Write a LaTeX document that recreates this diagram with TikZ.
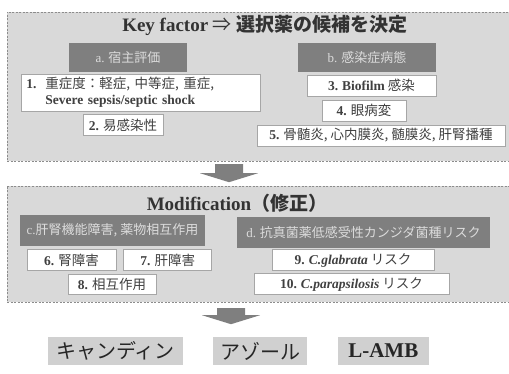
\documentclass[tikz,border=0pt]{standalone}
\usepackage{fontspec}
\setmainfont{Liberation Serif}
\newfontfamily\jp{Noto Sans CJK JP}
\usetikzlibrary{positioning}

\definecolor{framegray}{HTML}{D9D9D9}
\definecolor{dashgray}{HTML}{8C8C8C}
\definecolor{headgray}{HTML}{7F7F7F}
\definecolor{headtext}{HTML}{DCDCDC}
\definecolor{itemline}{HTML}{A6A6A6}
\definecolor{itemtext}{HTML}{404040}
\definecolor{druggray}{HTML}{D0D0D0}

\newcommand\itemno[1]{{\rmfamily\bfseries #1}}

\begin{document}
\begin{tikzpicture}[x=1pt, y=-1pt,
    stagebox/.style={draw=dashgray, dash pattern=on 2pt off 1.5pt, fill=framegray, inner sep=0pt},
    titletext/.style={text=black!80, font=\rmfamily\bfseries\fontsize{19}{22}\selectfont, inner sep=0pt},
    headbox/.style={fill=headgray, text=headtext, font=\jp\fontsize{13}{15}\selectfont, inner sep=0pt, minimum height=29pt},
    itembox/.style={draw=itemline, line width=0.8pt, fill=white, text=itemtext, font=\jp\fontsize{13.5}{16}\selectfont, inner sep=0pt, minimum height=21pt},
    drugbox/.style={fill=druggray, text=black!85, font=\jp\fontsize{20}{22}\selectfont, inner sep=0pt, minimum height=28pt},
    blockarrow/.style={fill=headgray}]
    \useasboundingbox (0,0) rectangle (509,374);

    % Frames
    \node [stagebox, minimum width=505pt, minimum height=149pt] (keyfactor) at (259.5,86.5) {};
    \node [stagebox, minimum width=505pt, minimum height=116pt] (modif) at (259.5,244) {};

    % Texts
    \node [titletext] (keytitle) at (265,25) {Key factor {\jp\mdseries ⇒} {\jp 選択薬の候補を決定}};
    \node [titletext] (modtitle) at (237,203) {Modification{\jp （修正）}};

    % Key factor
    \node [headbox, minimum width=118pt] (host) at (128,57.5) {{\rmfamily a.} 宿主評価};
    \node [headbox, minimum width=138pt] (infect) at (367,58) {{\rmfamily b.} 感染症病態};
    \node [itembox, anchor=west, text width=229pt, minimum height=37pt, inner xsep=5pt, align=left] (severity) at (21,92.5)
        {\makebox[19pt][l]{\itemno{1.}}重症度：軽症, 中等症, 重症,\\\hspace*{19pt}{\rmfamily\bfseries Severe sepsis/septic shock}};
    \node [itembox, minimum width=80pt] (suscept) at (123,125) {\itemno{2.} 易感染性};
    \node [itembox, minimum width=129pt] (biofilm) at (371.5,85.5) {\itemno{3.} {\rmfamily\bfseries Biofilm} 感染};
    \node [itembox, minimum width=84pt] (eye) at (364,110.5) {\itemno{4.} 眼病変};
    \node [itembox, minimum width=248pt] (organ) at (381,135.5) {\itemno{5.} 骨髄炎, 心内膜炎, 髄膜炎, 肝腎播種};

    % Modification
    \node [headbox, minimum width=185pt, minimum height=31pt] (organfn) at (112.5,230.5) {{\rmfamily c.}肝腎機能障害, 薬物相互作用};
    \node [headbox, minimum width=253pt, minimum height=31pt] (lowsus) at (363.5,232.5) {{\rmfamily d.} 抗真菌薬低感受性カンジダ菌種リスク};
    \node [itembox, minimum width=89pt] (renal) at (71.5,260) {\itemno{6.} 腎障害};
    \node [itembox, minimum width=88pt, right=7pt of renal] (hepatic) {\itemno{7.} 肝障害};
    \node [itembox, minimum width=88pt, minimum height=20pt] (interact) at (112,284.5) {\itemno{8.} 相互作用};
    \node [itembox, minimum width=162pt] (glabrata) at (353,260) {\itemno{9.} {\rmfamily\bfseries\itshape C.glabrata} リスク};
    \node [itembox, minimum width=195pt] (parap) at (351.5,284) {\itemno{10.} {\rmfamily\bfseries\itshape C.parapsilosis} リスク};

    % Drugs
    \node [drugbox, minimum width=135pt] (echino) at (115.5,351) {キャンディン};
    \node [drugbox, minimum width=94pt, right=30pt of echino] (azole) {アゾール};
    \node [drugbox, minimum width=91pt, right=30pt of azole, font=\rmfamily\bfseries\fontsize{21}{24}\selectfont] (lamb) {L-AMB};

    % Arrows
    \coordinate (arrA) at ([xshift=-30.5pt, yshift=-3pt]keyfactor.south);
    \coordinate (arrB) at ([xshift=-28.5pt, yshift=-6pt]modif.south);
    \fill [blockarrow] (arrA) ++(-14,0) -- ++(28,0) -- ++(0,9) -- ++(15,0) -- ++(-29,9) -- ++(-29,-9) -- ++(15,0) -- cycle;
    \fill [blockarrow] (arrB) ++(-14,0) -- ++(28,0) -- ++(0,7) -- ++(15,0) -- ++(-29,9) -- ++(-29,-9) -- ++(15,0) -- cycle;

\end{tikzpicture}
\end{document}
